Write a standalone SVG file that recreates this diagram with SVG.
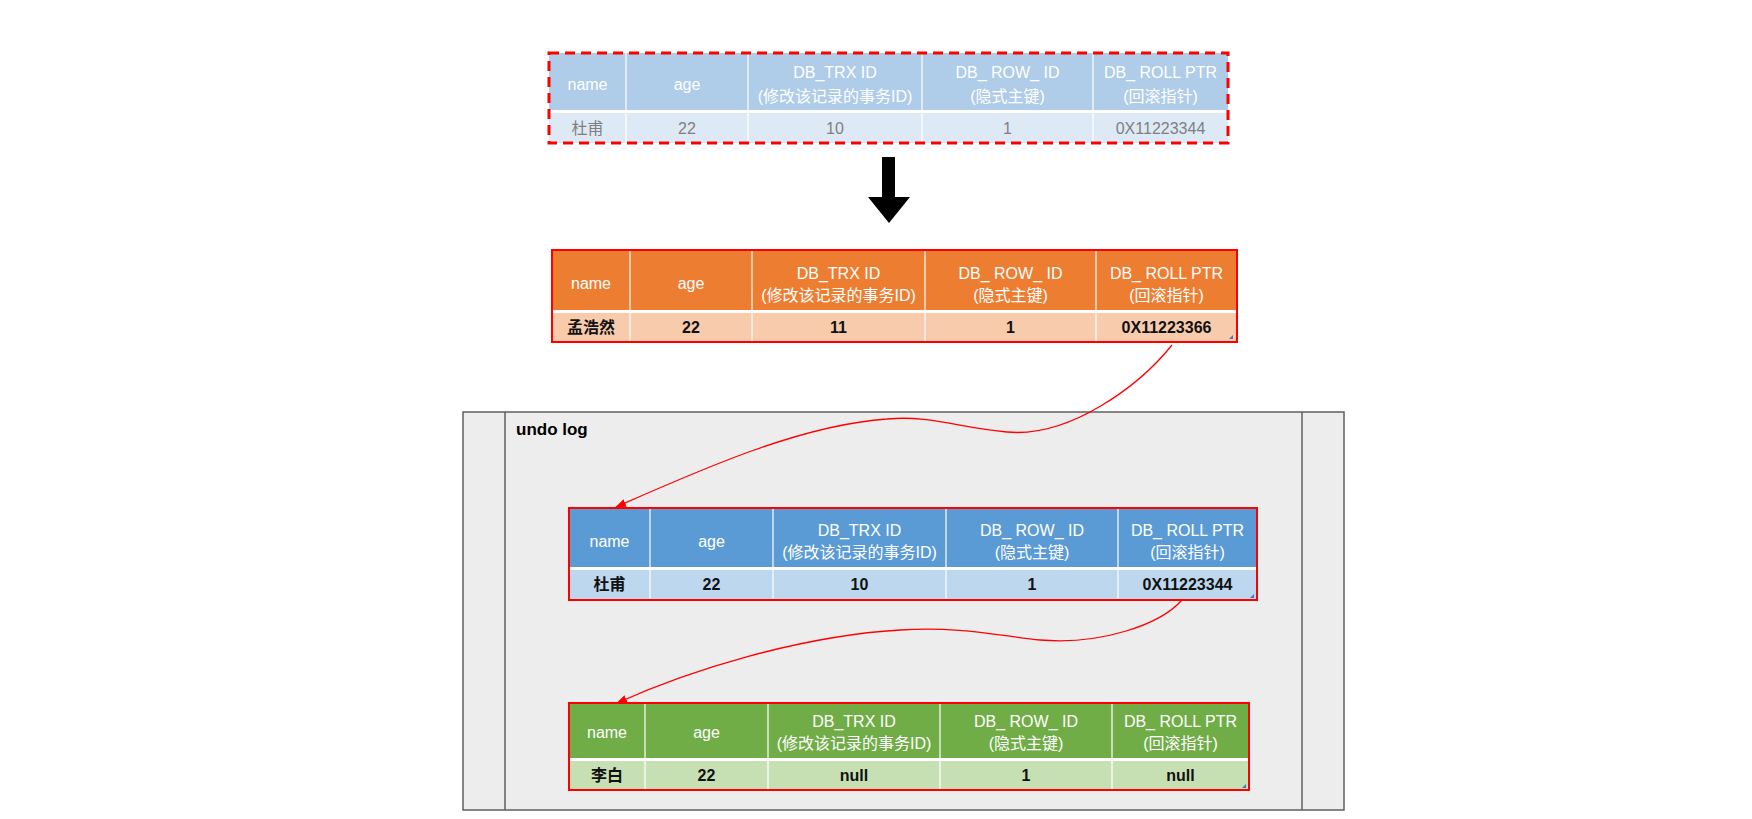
<svg xmlns="http://www.w3.org/2000/svg" width="1752" height="819" viewBox="0 0 1752 819">
<defs>
<style>
text { font-family: "Liberation Sans", "Noto Sans CJK SC", sans-serif; font-size: 16px; text-anchor: middle; dominant-baseline: central; }
.hd { fill: #ffffff; }
.rw { fill: #111111; font-weight: bold; }
.rg { fill: #7f7f7f; }
.sep { stroke: #ffffff; stroke-width: 1.2; }
.hsep { stroke: #ffffff; stroke-width: 3; }
.redb { fill: none; stroke: #ff0000; stroke-width: 2; }
.conn { fill: none; stroke: #ff0000; stroke-width: 1.3; }
.corner { fill: #4472c4; }
</style>
<marker id="ah" markerWidth="12" markerHeight="10" refX="10" refY="4" orient="auto" markerUnits="userSpaceOnUse">
<path d="M0,0 L11,4 L0,8 Z" fill="#ff0000"/>
</marker>
</defs>
<rect x="0" y="0" width="1752" height="819" fill="#ffffff"/>

<g id="undo-log">
<rect x="463" y="412" width="881" height="398" fill="#ededed" stroke="#606060" stroke-width="1.5"/>
<line x1="505" y1="412" x2="505" y2="810" stroke="#606060" stroke-width="1.5"/>
<line x1="1302" y1="412" x2="1302" y2="810" stroke="#606060" stroke-width="1.5"/>
<text x="516" y="429" style="text-anchor:start;font-weight:bold;font-size:17px;fill:#000">undo log</text>
</g>

<g id="table-top">
<rect x="549" y="53" width="679" height="58" fill="#afcce9"/>
<rect x="549" y="111" width="679" height="32" fill="#ddeaf6"/>
<line class="hsep" x1="549" y1="111.5" x2="1228" y2="111.5"/>
<line class="sep" x1="626" y1="53" x2="626" y2="143"/>
<line class="sep" x1="748" y1="53" x2="748" y2="143"/>
<line class="sep" x1="922" y1="53" x2="922" y2="143"/>
<line class="sep" x1="1093" y1="53" x2="1093" y2="143"/>
<text class="hd" x="587.5" y="84">name</text>
<text class="hd" x="687" y="84">age</text>
<text class="hd" x="835" y="72.5">DB_TRX ID</text>
<text class="hd" x="835" y="96.5">(修改该记录的事务ID)</text>
<text class="hd" x="1007.5" y="72.5">DB_ ROW_ ID</text>
<text class="hd" x="1007.5" y="96.5">(隐式主键)</text>
<text class="hd" x="1160.5" y="72.5">DB_ ROLL PTR</text>
<text class="hd" x="1160.5" y="96.5">(回滚指针)</text>
<text class="rg" x="587.5" y="128">杜甫</text>
<text class="rg" x="687" y="128">22</text>
<text class="rg" x="835" y="128">10</text>
<text class="rg" x="1007.5" y="128">1</text>
<text class="rg" x="1160.5" y="128">0X11223344</text>
<rect x="549" y="53" width="679" height="90" fill="none" stroke="#ff0000" stroke-width="3" stroke-dasharray="10 6"/>
</g>

<g id="down-arrow">
<polygon points="882,157 895,157 895,197 910,197 889,223 868,197 882,197" fill="#000000"/>
</g>

<g id="table-current">
<rect x="552" y="250" width="685" height="61" fill="#ed7d31"/>
<rect x="552" y="311" width="685" height="31" fill="#f8cbad"/>
<line class="hsep" x1="552" y1="311.5" x2="1237" y2="311.5"/>
<line class="sep" x1="630" y1="250" x2="630" y2="342"/>
<line class="sep" x1="752" y1="250" x2="752" y2="342"/>
<line class="sep" x1="925" y1="250" x2="925" y2="342"/>
<line class="sep" x1="1096" y1="250" x2="1096" y2="342"/>
<text class="hd" x="591" y="283">name</text>
<text class="hd" x="691" y="283">age</text>
<text class="hd" x="838.5" y="273">DB_TRX ID</text>
<text class="hd" x="838.5" y="295">(修改该记录的事务ID)</text>
<text class="hd" x="1010.5" y="273">DB_ ROW_ ID</text>
<text class="hd" x="1010.5" y="295">(隐式主键)</text>
<text class="hd" x="1166.5" y="273">DB_ ROLL PTR</text>
<text class="hd" x="1166.5" y="295">(回滚指针)</text>
<text class="rw" x="591" y="327">孟浩然</text>
<text class="rw" x="691" y="327">22</text>
<text class="rw" x="838.5" y="327">11</text>
<text class="rw" x="1010.5" y="327">1</text>
<text class="rw" x="1166.5" y="327">0X11223366</text>
<polygon class="corner" points="1233,335 1233,339 1229,339"/>
<rect class="redb" x="552" y="250" width="685" height="92"/>
</g>

<g id="table-undo-1">
<rect x="569" y="508" width="688" height="60" fill="#5b9bd5"/>
<rect x="569" y="568" width="688" height="32" fill="#bdd7ee"/>
<line class="hsep" x1="569" y1="568.5" x2="1257" y2="568.5"/>
<line class="sep" x1="650" y1="508" x2="650" y2="600"/>
<line class="sep" x1="773" y1="508" x2="773" y2="600"/>
<line class="sep" x1="946" y1="508" x2="946" y2="600"/>
<line class="sep" x1="1118" y1="508" x2="1118" y2="600"/>
<text class="hd" x="609.5" y="541">name</text>
<text class="hd" x="711.5" y="541">age</text>
<text class="hd" x="859.5" y="530">DB_TRX ID</text>
<text class="hd" x="859.5" y="552">(修改该记录的事务ID)</text>
<text class="hd" x="1032" y="530">DB_ ROW_ ID</text>
<text class="hd" x="1032" y="552">(隐式主键)</text>
<text class="hd" x="1187.5" y="530">DB_ ROLL PTR</text>
<text class="hd" x="1187.5" y="552">(回滚指针)</text>
<text class="rw" x="609.5" y="584">杜甫</text>
<text class="rw" x="711.5" y="584">22</text>
<text class="rw" x="859.5" y="584">10</text>
<text class="rw" x="1032" y="584">1</text>
<text class="rw" x="1187.5" y="584">0X11223344</text>
<polygon class="corner" points="1254,594 1254,598 1250,598"/>
<rect class="redb" x="569" y="508" width="688" height="92"/>
</g>

<g id="table-undo-2">
<rect x="569" y="703" width="680" height="56" fill="#70ad47"/>
<rect x="569" y="759" width="680" height="31" fill="#c6e0b4"/>
<line class="hsep" x1="569" y1="759.5" x2="1249" y2="759.5"/>
<line class="sep" x1="645" y1="703" x2="645" y2="790"/>
<line class="sep" x1="768" y1="703" x2="768" y2="790"/>
<line class="sep" x1="940" y1="703" x2="940" y2="790"/>
<line class="sep" x1="1112" y1="703" x2="1112" y2="790"/>
<text class="hd" x="607" y="732">name</text>
<text class="hd" x="706.5" y="732">age</text>
<text class="hd" x="854" y="721.5">DB_TRX ID</text>
<text class="hd" x="854" y="743.5">(修改该记录的事务ID)</text>
<text class="hd" x="1026" y="721.5">DB_ ROW_ ID</text>
<text class="hd" x="1026" y="743.5">(隐式主键)</text>
<text class="hd" x="1180.5" y="721.5">DB_ ROLL PTR</text>
<text class="hd" x="1180.5" y="743.5">(回滚指针)</text>
<text class="rw" x="607" y="775">李白</text>
<text class="rw" x="706.5" y="775">22</text>
<text class="rw" x="854" y="775">null</text>
<text class="rw" x="1026" y="775">1</text>
<text class="rw" x="1180.5" y="775">null</text>
<polygon class="corner" points="1246,784 1246,788 1242,788"/>
<rect class="redb" x="569" y="703" width="680" height="87"/>
</g>

<g id="connectors">
<path class="conn" marker-end="url(#ah)" d="M1172,345 C1140,385 1070,438 1007,432 C960,428 930,415 887,419 C800,425 700,470 616,507"/>
<path class="conn" marker-end="url(#ah)" d="M1182,600 C1160,625 1100,645 1040,640 C1000,636 960,626 900,630 C800,636 690,670 617,703"/>
</g>
</svg>
